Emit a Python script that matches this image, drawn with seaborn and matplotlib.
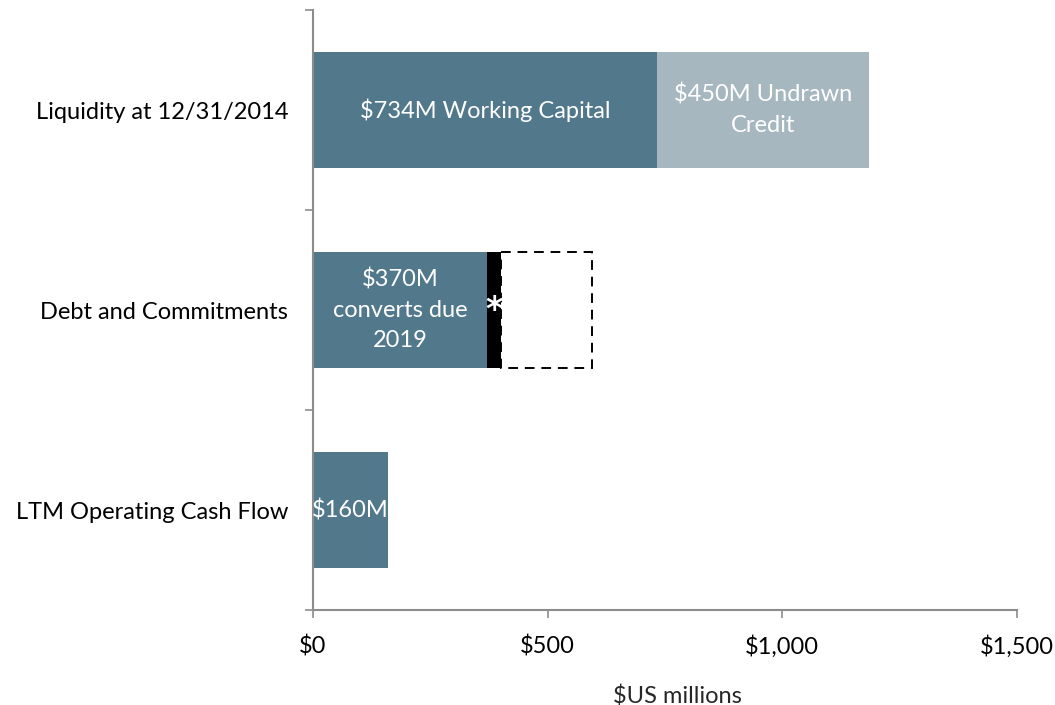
import matplotlib
matplotlib.use("Agg")
import matplotlib.pyplot as plt
import seaborn as sns
import pandas as pd
import numpy as np
from matplotlib.ticker import FuncFormatter, FixedLocator

sns.set_style("white")
plt.rcParams['font.family'] = ['Lato', 'DejaVu Sans']

# ---- data ----
categories = ["Liquidity at 12/31/2014", "Debt and Commitments", "LTM Operating Cash Flow"]
seg_category = ["Liquidity at 12/31/2014", "Liquidity at 12/31/2014",
                "Debt and Commitments", "Debt and Commitments", "Debt and Commitments",
                "LTM Operating Cash Flow"]
seg_value = [734, 450, 370, 30, 195, 160]
seg_label = ["\\$734M Working Capital", "\\$450M Undrawn\nCredit",
             "\\$370M\nconverts due\n2019", "*", "", "\\$160M"]
seg_kind = ["dark", "light", "dark", "black", "dashed", "dark"]
x_ticks = [0, 500, 1000, 1500]

colors = {"dark": "#52788C", "light": "#A6B7C0", "black": "#000000", "dashed": "none"}

df = pd.DataFrame({"category": seg_category, "value": seg_value,
                   "label": seg_label, "kind": seg_kind})
df["left"] = df.groupby("category")["value"].cumsum() - df["value"]

FS = 17

fig = plt.figure(figsize=(10.55, 7.05), dpi=100)
ax = fig.add_axes([313/1055, 1 - 610/705, (1017-313)/1055, 600/705])

for i, row in df.iterrows():
    sub = pd.DataFrame({"category": [row["category"]], "value": [row["value"]]})
    n_before = len(ax.patches)
    if row["kind"] == "dashed":
        sns.barplot(data=sub, x="value", y="category", order=categories, orient="h",
                    width=0.58, fill=False, edgecolor="black", linewidth=1.4,
                    linestyle=(0, (5, 3.5)), ax=ax, errorbar=None)
    else:
        sns.barplot(data=sub, x="value", y="category", order=categories, orient="h",
                    width=0.58, color=colors[row["kind"]], saturation=1,
                    linewidth=0, ax=ax, errorbar=None)
    for p in ax.patches[n_before:]:
        if p.get_width() > 0:
            p.set_x(row["left"])
            if row["kind"] == "dashed":
                p.set_zorder(0.5)

    # labels
    yi = categories.index(row["category"])
    xc = row["left"] + row["value"] / 2
    if row["label"] == "*":
        ax.text(xc, yi, "*", color="white", ha="center", va="center",
                fontsize=24, fontweight="bold", family="DejaVu Sans")
    elif row["label"]:
        ax.text(xc, yi, row["label"], color="white", ha="center", va="center",
                fontsize=FS, linespacing=1.55)

ax.set_xlim(0, 1500)
ax.set_ylim(2.5, -0.5)
ax.xaxis.set_major_locator(FixedLocator(x_ticks))
ax.xaxis.set_major_formatter(FuncFormatter(lambda v, p: "\\$" + f"{int(v):,}"))
ax.set_yticks(range(len(categories)))
ax.set_yticklabels(categories)
ax.set_yticks([-0.5, 0.5, 1.5, 2.5], minor=True)

for s in ["top", "right"]:
    ax.spines[s].set_visible(False)
for s in ["left", "bottom"]:
    ax.spines[s].set_color("#8C8C8C")
    ax.spines[s].set_linewidth(1.5)

ax.tick_params(axis="y", which="major", length=0, pad=18, labelsize=FS, labelcolor="black")
ax.tick_params(axis="y", which="minor", length=6, width=1.2, color="#8C8C8C", direction="out", left=True)
ax.tick_params(axis="x", which="major", length=6, width=1.2, color="#8C8C8C", direction="out",
               bottom=True, pad=12, labelsize=FS, labelcolor="black")

ax.set_xlabel("\\$US millions", fontsize=FS)
ax.xaxis.set_label_coords(0.517, -0.125)
ax.set_ylabel("")

fig.savefig("out.png", dpi=100)
